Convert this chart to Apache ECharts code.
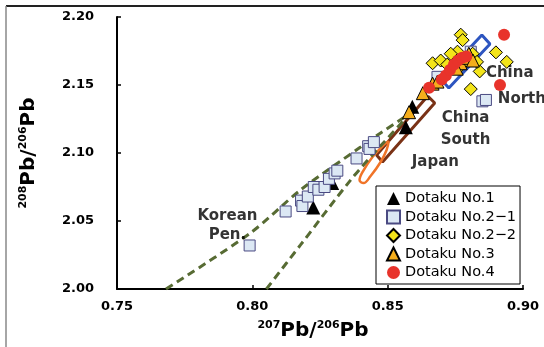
<!DOCTYPE html>
<html><head><meta charset="utf-8">
<script src="https://cdn.jsdelivr.net/npm/echarts@6/dist/echarts.min.js"></script>
<style>html,body{margin:0;padding:0;background:#fff}#c{width:544px;height:347px}</style>
</head><body><div id="c"></div>
<script>
// ---- data (x = 207Pb/206Pb, y = 208Pb/206Pb) ----
const xRange = [0.75, 0.90];
const yRange = [2.00, 2.20];
const legendNames = ['Dotaku No.1', 'Dotaku No.2\u22121', 'Dotaku No.2\u22122', 'Dotaku No.3', 'Dotaku No.4'];

const dotaku1 = [[0.8225, 2.060], [0.8295, 2.078], [0.8567, 2.119], [0.8591, 2.134]];
const dotaku21 = [[0.799, 2.032], [0.8123, 2.057], [0.8180, 2.065], [0.8185, 2.061], [0.8205, 2.068],
  [0.8227, 2.075], [0.8244, 2.073], [0.8267, 2.075], [0.8283, 2.081], [0.8304, 2.085], [0.8314, 2.087],
  [0.8385, 2.096], [0.8428, 2.105], [0.8433, 2.103], [0.8449, 2.108], [0.8850, 2.138], [0.8863, 2.139],
  [0.8684, 2.156], [0.8807, 2.1745]];
const dotaku22 = [[0.8770, 2.187], [0.8777, 2.183], [0.8666, 2.166], [0.8758, 2.1745], [0.8900, 2.174],
  [0.8940, 2.167], [0.8840, 2.160], [0.8807, 2.147], [0.8733, 2.173], [0.8814, 2.173], [0.8696, 2.168],
  [0.8780, 2.166], [0.8760, 2.162], [0.8800, 2.170], [0.8720, 2.165], [0.8830, 2.167]];
const dotaku3 = [[0.8579, 2.130], [0.8630, 2.144], [0.8666, 2.151], [0.8684, 2.1525], [0.8770, 2.166],
  [0.8790, 2.170], [0.8800, 2.173], [0.8755, 2.162], [0.8815, 2.168]];
const dotaku4 = [[0.8930, 2.187], [0.8915, 2.150], [0.8653, 2.148], [0.8700, 2.154], [0.8715, 2.157],
  [0.8730, 2.161], [0.8745, 2.165], [0.8760, 2.168], [0.8775, 2.170], [0.8790, 2.171]];

// field outlines
const chinaNorthField = [[0.8696, 2.1544], [0.8726, 2.1478], [0.8878, 2.1801], [0.8848, 2.1868], [0.8696, 2.1544]];
const chinaSouthField = [[0.8648, 2.1419], [0.8674, 2.1368], [0.8481, 2.0934], [0.8459, 2.0985], [0.8648, 2.1419]];
const japanField = [[0.8504, 2.1088], [0.8496, 2.1022], [0.8474, 2.0934], [0.8437, 2.0831], [0.8411, 2.0779],
  [0.8396, 2.0801], [0.8407, 2.0860], [0.8444, 2.0970], [0.8481, 2.1051], [0.8504, 2.1088]];
const koreaUpper = [[0.7681, 2.000], [0.7993, 2.0412], [0.8178, 2.0728], [0.8400, 2.1044], [0.8474, 2.1147], [0.8585, 2.1294]];
const koreaLower = [[0.8052, 2.000], [0.8178, 2.0324], [0.8363, 2.0801], [0.8467, 2.1037], [0.8585, 2.1294]];

// region labels (text, anchor in data units)
const regionTexts = ['China', 'North', 'China', 'South', 'Japan', 'Korean', 'Pen.'];
const regionAnchors = [[0.8863, 2.1588], [0.8907, 2.1397], [0.8700, 2.1257], [0.8696, 2.1096],
  [0.8589, 2.0934], [0.7908, 2.0537], [0.7908, 2.0397]];
const regionAlign = ['left', 'left', 'left', 'left', 'left', 'center', 'center'];

const chart = echarts.init(document.getElementById('c'), null, {renderer: 'canvas'});
const FONT = 'DejaVu Sans';
const titleRich = {
  s: {fontSize: 11, fontWeight: 'bold', fontFamily: FONT, color: '#000', verticalAlign: 'top', lineHeight: 22},
  b: {fontSize: 20, fontWeight: 'bold', fontFamily: FONT, color: '#000', lineHeight: 22}
};
const axisCommon = {
  axisLine: {show: true, onZero: false, lineStyle: {color: '#000', width: 2}},
  axisTick: {show: true, inside: true, length: 4, lineStyle: {color: '#000', width: 1.5}},
  splitLine: {show: false},
  axisLabel: {color: '#000', fontFamily: FONT, fontWeight: 'bold', fontSize: 13, formatter: v => v.toFixed(2)}
};
function outline(name, data, color, width, extra) {
  return Object.assign({
    type: 'line', name: name, data: data, showSymbol: false, symbol: 'none', silent: true,
    lineStyle: {color: color, width: width}, z: 1, animation: false
  }, extra || {});
}
function pts(name, data, symbol, size, color, border, bw) {
  return {type: 'scatter', name: name, data: data, symbol: symbol, symbolSize: size,
    itemStyle: {color: color, borderColor: border, borderWidth: bw, opacity: 1}, z: 3, animation: false};
}
const labelData = regionAnchors.map((p, i) => ({
  value: p,
  label: {show: true, position: 'inside', align: regionAlign[i], verticalAlign: 'middle',
    formatter: regionTexts[i], color: '#000', fontFamily: FONT, fontWeight: 'bold', fontSize: 15}
}));

chart.setOption({
  animation: false,
  backgroundColor: '#fff',
  grid: {left: 117, right: 21, top: 17, bottom: 58, containLabel: false},
  xAxis: Object.assign({}, axisCommon, {
    type: 'value', min: xRange[0], max: xRange[1], interval: 0.05,
    axisLabel: Object.assign({}, axisCommon.axisLabel, {margin: 11}),
    name: '{s|207}{b|Pb/}{s|206}{b|Pb}', nameLocation: 'middle', nameGap: 31,
    nameTextStyle: {rich: titleRich, padding: [0, 14, 0, 0]}
  }),
  yAxis: Object.assign({}, axisCommon, {
    type: 'value', min: yRange[0], max: yRange[1], interval: 0.05,
    axisLabel: Object.assign({}, axisCommon.axisLabel, {margin: 23}),
    name: '{s|208}{b|Pb/}{s|206}{b|Pb}', nameLocation: 'middle', nameGap: 77, nameRotate: 90,
    nameTextStyle: {rich: titleRich}
  }),
  legend: {
    data: legendNames, orient: 'vertical', left: 376, top: 186,
    padding: [5, 4, 4, 10], itemGap: 3.5, itemWidth: 13, itemHeight: 13,
    borderColor: '#000', borderWidth: 1, backgroundColor: '#fff',
    textStyle: {fontFamily: FONT, fontSize: 14.5, color: '#000', lineHeight: 15}
  },
  graphic: [
    {type: 'line', shape: {x1: 6, y1: 6, x2: 544, y2: 6}, style: {stroke: '#222', lineWidth: 2}, silent: true},
    {type: 'line', shape: {x1: 6, y1: 6, x2: 6, y2: 347}, style: {stroke: '#888', lineWidth: 1.5}, silent: true}
  ],
  series: [
    outline('chinaNorth', chinaNorthField, '#2d55c0', 3),
    outline('chinaSouth', chinaSouthField, '#7a3216', 3),
    outline('japan', japanField, '#f07428', 2.5, {smooth: 0.4}),
    outline('koreaUpper', koreaUpper, '#576b33', 3, {smooth: 0.3, lineStyle: {color: '#576b33', width: 3, type: [8, 5]}}),
    outline('koreaLower', koreaLower, '#576b33', 3, {smooth: 0.3, lineStyle: {color: '#576b33', width: 3, type: [8, 5]}}),
    pts(legendNames[0], dotaku1, 'triangle', 14, '#000', '#000', 0),
    pts(legendNames[1], dotaku21, 'rect', 11, '#dce8f4', '#4a4a82', 1),
    pts(legendNames[2], dotaku22, 'diamond', 13, '#f3e41a', '#000', 1),
    pts(legendNames[3], dotaku3, 'triangle', 13, '#f5ae1c', '#000', 1),
    pts(legendNames[4], dotaku4, 'circle', 12, '#e8332b', '#e8332b', 0),
    {type: 'scatter', name: 'labels', data: labelData, symbolSize: 0, silent: true, z: 5, animation: false}
  ]
});
</script>
</body></html>
